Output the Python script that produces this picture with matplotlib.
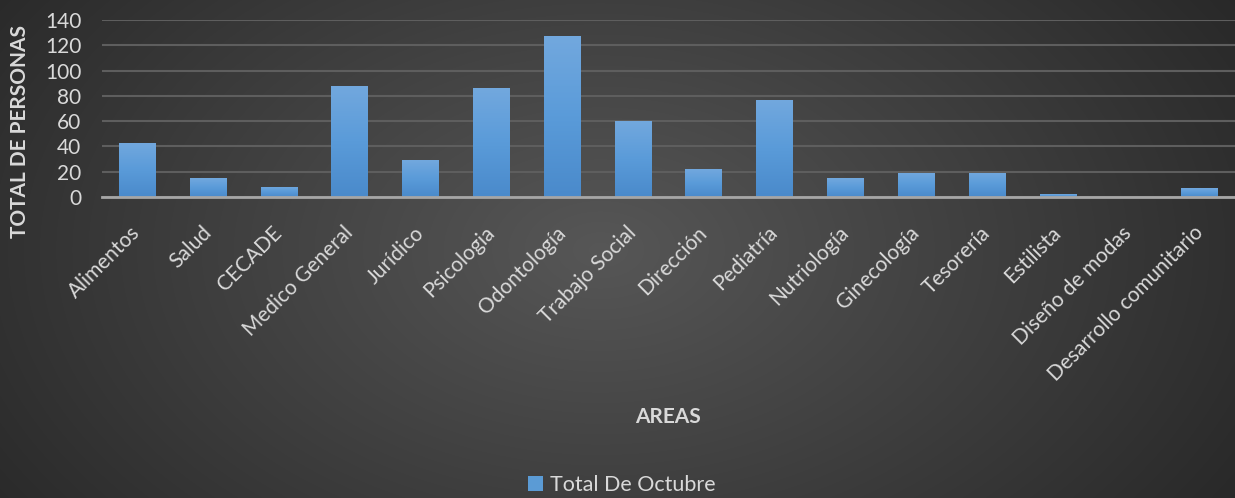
import numpy as np
import matplotlib
matplotlib.use("Agg")
import matplotlib.pyplot as plt
import matplotlib.transforms as mtransforms
from matplotlib.colors import LinearSegmentedColormap

categories = ["Alimentos", "Salud", "CECADE", "Medico General", "Jurídico", "Psicologia",
              "Odontología", "Trabajo Social", "Dirección", "Pediatría", "Nutriología",
              "Ginecología", "Tesorería", "Estilista", "Diseño de modas", "Desarrollo comunitario"]
values = [43, 15, 8, 88, 29, 86, 127, 60, 22, 77, 15, 19, 19, 2, 0, 7]
yticks = [0, 20, 40, 60, 80, 100, 120, 140]
series_name = "Total De Octubre"

plt.rcParams['font.family'] = ['Lato', 'DejaVu Sans']
txt = "#d9d9d9"

W, H = 1235, 498
fig = plt.figure(figsize=(W / 100, H / 100), dpi=100)

# radial-ish background gradient
bg = fig.add_axes([0, 0, 1, 1], zorder=-10)
yy, xx = np.mgrid[0:H, 0:W]
d = np.sqrt(((xx - 600) / 700.0) ** 2 + ((yy - 250) / 450.0) ** 2)
g = np.clip(0.34 - 0.17 * d, 0.15, 0.34)
bg.imshow(np.dstack([g, g, g]), aspect='auto', extent=[0, 1, 0, 1], origin='upper')
bg.axis('off')

ax = fig.add_axes([102 / W, 1 - 197 / H, (1235 - 102) / W, 177 / H])
ax.patch.set_alpha(0)
x = np.arange(len(categories))
bars = ax.bar(x, values, width=0.52, color="#5b9bd5", zorder=3, label=series_name)

cmap = LinearSegmentedColormap.from_list("b", ["#4a8acb", "#5a9bd9", "#72a8de"])
grad = np.linspace(0, 1, 100).reshape(-1, 1)
for b in bars:
    h = b.get_height()
    if h <= 0:
        continue
    im = ax.imshow(grad, cmap=cmap, aspect='auto', origin='lower',
                   extent=[b.get_x(), b.get_x() + b.get_width(), 0, h], zorder=4)
    im.set_clip_path(b)

ax.set_xlim(-0.5, len(categories) - 0.5)
ax.set_ylim(0, 140)
ax.set_yticks(yticks)
ax.yaxis.grid(True, color="#5e5e5e", linewidth=1.5, zorder=0)
ax.set_axisbelow(True)
for s in ["top", "right", "left"]:
    ax.spines[s].set_visible(False)
ax.spines["bottom"].set_color("#a6a6a6")
ax.spines["bottom"].set_linewidth(2)
ax.spines["bottom"].set_zorder(5)
ax.tick_params(axis='both', length=0, colors=txt)
ax.tick_params(axis='y', pad=15, labelsize=15)
ax.set_xticks(x)
ax.set_xticklabels(categories, rotation=45, ha='right', rotation_mode='anchor', fontsize=15, color=txt)
ax.tick_params(axis='x', pad=12)
offset = mtransforms.ScaledTranslation(-7 / 100, -9 / 100, fig.dpi_scale_trans)
for lab in ax.get_xticklabels():
    lab.set_transform(lab.get_transform() + offset)

fig.text(20 / W, 1 - 132 / H, "TOTAL DE PERSONAS", rotation=90, ha='center', va='center',
         fontsize=15, fontweight='bold', color=txt)
fig.text(668 / W, 1 - 417 / H, "AREAS", ha='center', va='center',
         fontsize=15, fontweight='bold', color=txt)

leg = fig.legend(handles=[bars], labels=[series_name], loc='center', bbox_to_anchor=(622 / W, 1 - 485 / H),
                 frameon=False, fontsize=15.5, handlelength=0.7, handleheight=0.7, handletextpad=0.3,
                 labelcolor=txt)

fig.savefig("out.png", dpi=100)
